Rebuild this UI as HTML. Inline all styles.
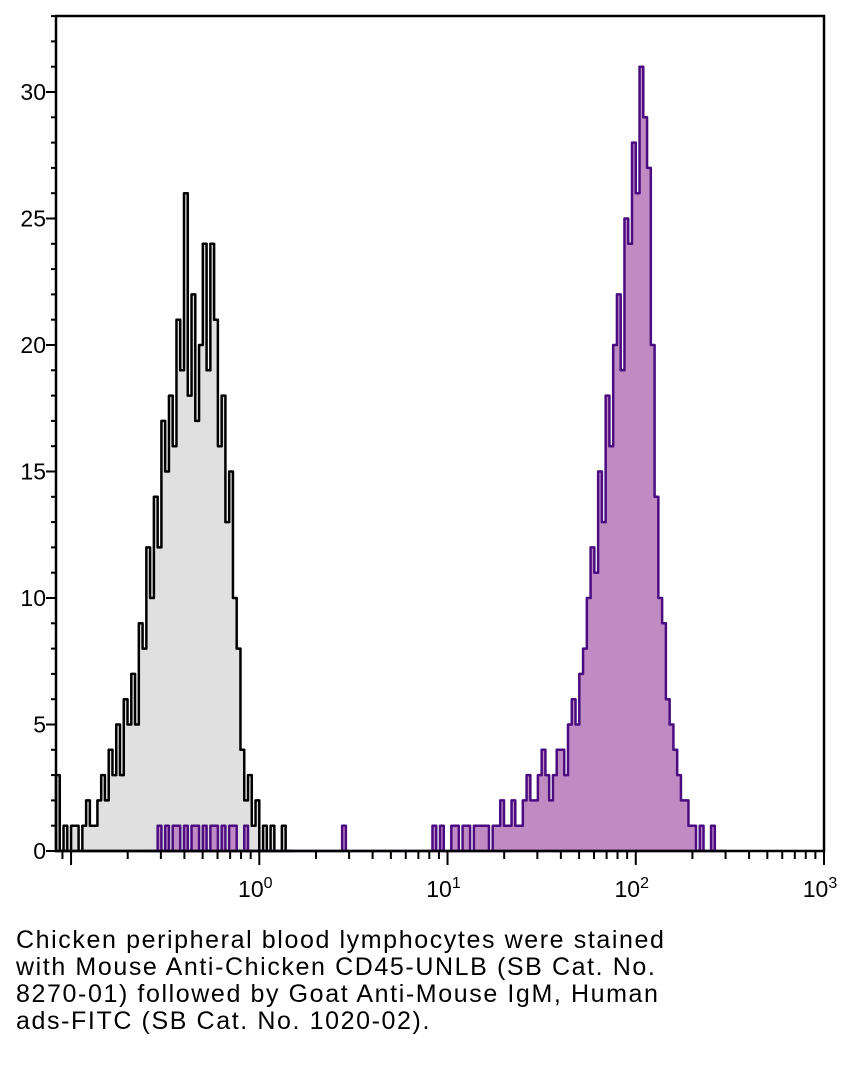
<!DOCTYPE html>
<html><head><meta charset="utf-8"><style>
body{margin:0;background:#fff;width:856px;height:1068px;overflow:hidden;font-family:"Liberation Sans",sans-serif}
#cap{position:absolute;left:16px;top:927px;font-size:25px;letter-spacing:1.6px;line-height:27px;color:#000;white-space:pre}
</style></head><body>
<svg id="chart" width="856" height="920" style="position:absolute;left:0;top:0"></svg>
<div id="cap">Chicken peripheral blood lymphocytes were stained
with Mouse Anti-Chicken CD45-UNLB (SB Cat. No.
8270-01) followed by Goat Anti-Mouse IgM, Human
ads-FITC (SB Cat. No. 1020-02).</div>
<script>
const greyStart = -1.08;
const greyValues = [3,0,1,0,1,1,0,1,2,1, 1,2,3,2,4,3,5,3,6,5, 7,5,9,8,12,10,14,12,17,15, 18,16,21,19,26,18,22,17,20,24, 19,24,21,16,18,13,15,10,8,4, 2,3,1,2,0,1,0,1,0,0, 1,0,0];
const purpleStart = -0.60;
const purpleValues = [0,0,0,1,0,1,0,1,1,0, 1,0,1,1,0,1,0,1,1,0, 1,0,1,1,0,0,1,0,0,0, 0,0,0,0,0,0,0,0,0,0, 0,0,0,0,0,0,0,0,0,0, 0,0,1,0,0,0,0,0,0,0, 0,0,0,0,0,0,0,0,0,0, 0,0,0,0,0,0,1,0,1,0, 0,1,1,0,1,1,0,1,1,1, 1,0,1,1,2,1,1,2,1,1, 2,3,2,2,3,4,3,2,3,4, 4,3,5,6,5,7,8,10,12,11, 15,13,18,16,20,22,19,25,24,28, 26,31,29,27,20,14,10,9,6,5, 4,3,2,2,1,1,0,1,0,0, 1,0,0,0];
const binWidth = 0.02;
const yTicks = [0,5,10,15,20,25,30];
const xDecades = [0,1,2,3];

const NS="http://www.w3.org/2000/svg";
const svg=document.getElementById('chart');
const L=56,R=824,T=16,B=851;
const xMin=-1.08,xMax=3.0,yMax=33;
const xs=v=>L+(v-xMin)/(xMax-xMin)*(R-L);
const ys=v=>B-v/30*(B-92);
function mk(tag,attrs){const e=document.createElementNS(NS,tag);for(const k in attrs)e.setAttribute(k,attrs[k]);svg.appendChild(e);return e;}
function series(start,vals){
  let d=`M${xs(start)},${ys(0)}`;
  vals.forEach((v,i)=>{const x0=xs(start+i*binWidth),x1=xs(start+(i+1)*binWidth);d+=`L${x0},${ys(v)}L${x1},${ys(v)}`;});
  d+=`L${xs(start+vals.length*binWidth)},${ys(0)}`;
  return d;
}
const g=mk('path',{d:series(greyStart,greyValues)+'Z',fill:'#e0e0e0',stroke:'#000','stroke-width':2.5,'stroke-linejoin':'round'});


const p=mk('path',{d:series(purpleStart,purpleValues)+'Z',fill:'#c08bc2',stroke:'#4b0c82','stroke-width':2.5,'stroke-linejoin':'round'});


const frame=mk('rect',{x:L,y:T,width:R-L,height:B-T,fill:'none',stroke:'#000','stroke-width':2.5});


for(let v=0;v<=yMax;v++){
  const y=ys(v);if(y<T)break;
  const major=v%5===0;
  mk('line',{x1:L,x2:L-(major?10:5),y1:y,y2:y,stroke:'#000','stroke-width':2});
}
yTicks.forEach(v=>{
  const t=mk('text',{x:46,y:ys(v)+8,'text-anchor':'end','font-size':23,'font-family':'Liberation Sans, sans-serif'});
  t.textContent=v;
  
  
});
for(let dcd=-2;dcd<3;dcd++){
  for(let m=1;m<10;m++){
    const lv=dcd+Math.log10(m);
    if(lv<xMin||lv>xMax)continue;
    const x=xs(lv);
    mk('line',{x1:x,x2:x,y1:B,y2:B+(m===1?14:8),stroke:'#000','stroke-width':2});
  }
}
mk('line',{x1:xs(3),x2:xs(3),y1:B,y2:B+14,stroke:'#000','stroke-width':2});
xDecades.forEach(k=>{
  const t=mk('text',{x:xs(k)-4,y:897,'text-anchor':'middle','font-size':23,'font-family':'Liberation Sans, sans-serif'});
  t.innerHTML='10<tspan dy="-9" font-size="16">'+k+'</tspan>';
  
  
});
</script>
</body></html>
